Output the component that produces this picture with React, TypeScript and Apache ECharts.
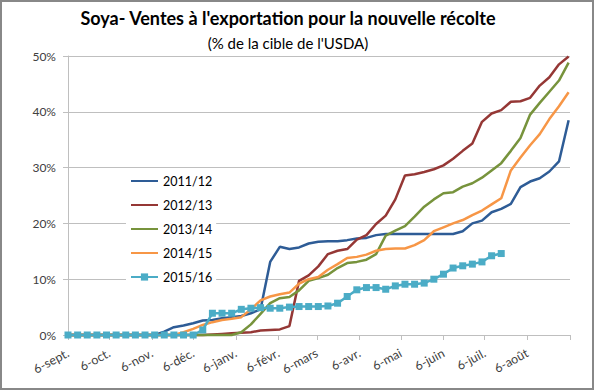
import { useEffect, useRef } from "react";
import * as echarts from "echarts";

const monthLabels = ["6-sept.", "6-oct.", "6-nov.", "6-déc.", "6-janv.", "6-févr.", "6-mars", "6-avr.", "6-mai", "6-juin", "6-juil.", "6-août"];
const monthDays = [0, 30, 61, 91, 122, 153, 181, 212, 242, 273, 303, 334, 365];
const seriesNames = ["2011/12", "2012/13", "2013/14", "2014/15", "2015/16"];

const s2011 = [0, 0, 0, 0, 0, 0, 0, 0, 0, 0, 0.6, 1.4, 1.7, 2.1, 2.6, 2.7, 3.0, 3.2, 3.4, 3.9, 4.6, 13.1, 15.8, 15.4, 15.7, 16.4, 16.7, 16.8, 16.8, 17.0, 17.3, 17.4, 17.9, 18.1, 18.1, 18.1, 18.1, 18.1, 18.1, 18.1, 18.1, 18.6, 20.0, 20.5, 22.0, 22.6, 23.5, 26.5, 27.5, 28.1, 29.3, 31.1, 38.5];
const s2012 = [0, 0, 0, 0, 0, 0, 0, 0, 0, 0, 0, 0, 0, 0, 0, 0.1, 0.2, 0.3, 0.4, 0.5, 0.8, 0.9, 1.0, 1.6, 9.7, 10.7, 12.3, 14.5, 15.1, 15.4, 17.1, 17.9, 19.9, 21.4, 24.3, 28.6, 28.8, 29.2, 29.7, 30.4, 31.6, 33.0, 34.3, 38.2, 39.7, 40.3, 41.8, 41.9, 42.5, 44.7, 46.2, 48.5, 49.9];
const s2013 = [0, 0, 0, 0, 0, 0, 0, 0, 0, 0, 0, 0, 0, 0, 0, 0, 0, 0, 0.5, 1.9, 3.8, 5.7, 6.6, 6.8, 8.0, 9.7, 10.2, 10.8, 12.0, 12.9, 13.1, 13.5, 14.5, 17.8, 18.7, 19.5, 21.2, 23.0, 24.3, 25.4, 25.6, 26.6, 27.2, 28.2, 29.5, 30.8, 33.0, 35.3, 39.5, 41.6, 43.6, 45.6, 48.8];
const s2014 = [0, 0, 0, 0, 0, 0, 0, 0, 0, 0, 0, 0, 0.5, 1.1, 1.8, 2.3, 2.7, 2.9, 3.2, 4.6, 6.2, 6.9, 7.3, 7.6, 9.2, 10.0, 10.4, 11.7, 12.7, 13.8, 14.0, 14.4, 15.1, 15.4, 15.5, 15.5, 16.1, 17.0, 18.6, 19.3, 20.0, 20.6, 21.5, 22.3, 23.4, 24.5, 29.5, 31.8, 34.0, 36.0, 38.7, 41.0, 43.5];
const s2015 = [0, 0, 0, 0, 0, 0, 0, 0, 0, 0, 0, 0, 0, 0, 0.9, 3.9, 3.9, 3.9, 4.6, 4.8, 4.9, 4.8, 4.8, 5.0, 5.1, 5.1, 5.1, 5.2, 5.7, 6.9, 8.1, 8.5, 8.5, 8.2, 8.8, 9.1, 9.1, 9.3, 10.0, 10.9, 12.0, 12.4, 12.7, 13.1, 14.2, 14.6];
const yTicks = [0, 10, 20, 30, 40, 50];

const allSeries = [s2011, s2012, s2013, s2014, s2015];
const colors = ["#2E5C96", "#953735", "#77933C", "#F79646", "#4BACC6"];
const FONT = "Lato";

export default function App() {
  const ref = useRef<HTMLDivElement>(null);
  useEffect(() => {
    if (!ref.current) return;
    const chart = echarts.init(ref.current, undefined, { renderer: "svg" });
    const labelMap: Record<number, string> = {};
    monthLabels.forEach((l, i) => (labelMap[monthDays[i]] = l));
    chart.setOption({
      animation: false,
      backgroundColor: "#ffffff",
      textStyle: { fontFamily: FONT },
      graphic: [
        {
          type: "text",
          x: 288,
          y: 9,
          style: {
            text: "Soya- Ventes à l'exportation pour la nouvelle récolte",
            font: `bold 18px ${FONT}`,
            fill: "#000",
            textAlign: "center",
            textVerticalAlign: "top",
          },
        },
        {
          type: "text",
          x: 288,
          y: 35,
          style: {
            text: "(% de la cible de l'USDA)",
            font: `15px ${FONT}`,
            fill: "#000",
            textAlign: "center",
            textVerticalAlign: "top",
          },
        },
      ],
      legend: {
        orient: "vertical",
        left: 126,
        top: 170,
        padding: [4, 4],
        itemGap: 10,
        itemWidth: 27,
        itemHeight: 9,
        backgroundColor: "#ffffff",
        textStyle: { fontFamily: FONT, fontSize: 12.5, color: "#000", lineHeight: 14 },
        data: seriesNames.map((n, i) =>
          i === 4 ? { name: n } : { name: n, itemStyle: { opacity: 0 } }
        ),
      },
      grid: { left: 68, right: 24, top: 56, bottom: 55, containLabel: false },
      xAxis: {
        type: "value",
        min: 0,
        max: 365,
        axisLine: { show: true, lineStyle: { color: "#bfbfbf", width: 1 } },
        axisTick: { show: true, customValues: monthDays, length: 5, lineStyle: { color: "#bfbfbf" } },
        axisLabel: {
          customValues: monthDays.slice(0, 12),
          formatter: (v: number) => labelMap[v] ?? "",
          rotate: 28,
          margin: 17,
          fontFamily: FONT,
          fontSize: 12.5,
          color: "#404040",
        },
        splitLine: { show: false },
      },
      yAxis: {
        type: "value",
        min: 0,
        max: 50,
        interval: 10,
        axisLine: { show: true, lineStyle: { color: "#bfbfbf", width: 1 } },
        axisTick: { show: true, length: 5, lineStyle: { color: "#bfbfbf" } },
        axisLabel: {
          formatter: (v: number) => (yTicks.includes(v) ? `${v}%` : ""),
          margin: 12,
          fontFamily: FONT,
          fontSize: 12,
          color: "#404040",
        },
        splitLine: { show: true, lineStyle: { color: "#bfbfbf", width: 1 } },
      },
      series: allSeries.map((vals, si) => ({
        name: seriesNames[si],
        type: "line",
        data: vals.map((v, i) => [i * 7, v]),
        symbol: si === 4 ? "rect" : "none",
        symbolSize: 7,
        showSymbol: si === 4,
        lineStyle: { color: colors[si], width: 2.5 },
        itemStyle: { color: colors[si] },
        color: colors[si],
        clip: false,
      })),
    });
    return () => chart.dispose();
  }, []);
  return (
    <div style={{ position: "absolute", left: 0, top: 0, width: 594, height: 390 }}>
      <div ref={ref} style={{ width: 594, height: 390 }} />
      <div
        style={{
          position: "absolute",
          left: 0,
          top: 0,
          width: 594,
          height: 390,
          boxSizing: "border-box",
          border: "2px solid #888888",
          pointerEvents: "none",
        }}
      />
    </div>
  );
}
